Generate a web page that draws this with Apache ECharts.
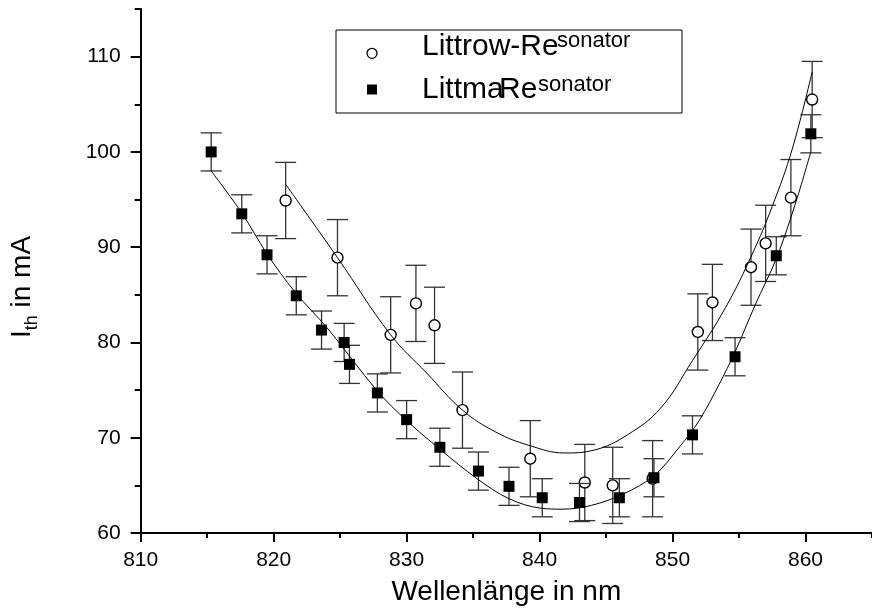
<!DOCTYPE html>
<html><head><meta charset="utf-8">
<script src="https://cdn.jsdelivr.net/npm/echarts@6/dist/echarts.min.js"></script>
<style>html,body{margin:0;padding:0;background:#fff}#c{width:872px;height:611px}</style>
</head><body><div id="c"></div>
<script>
// ---- data ----
const littrowX   = [820.9, 824.8, 828.8, 830.7, 832.1, 834.2, 839.3, 843.4, 845.5, 848.5, 851.9, 853.0, 855.9, 857.0, 858.9, 860.5];
const littrowY   = [94.9, 88.9, 80.8, 84.1, 81.8, 72.9, 67.8, 65.3, 65.0, 65.7, 81.1, 84.2, 87.9, 90.4, 95.2, 105.5];
const littrowErr = [4.0, 4.0, 4.0, 4.0, 4.0, 4.0, 4.0, 4.0, 4.0, 4.0, 4.0, 4.0, 4.0, 4.0, 4.0, 4.0];

const littmanX   = [815.3, 817.6, 819.5, 821.7, 823.6, 825.3, 825.7, 827.8, 830.0, 832.5, 835.4, 837.7, 840.2, 843.0, 846.0, 848.6, 851.5, 854.7, 857.8, 860.4];
const littmanY   = [100.0, 93.5, 89.2, 84.9, 81.3, 80.0, 77.7, 74.7, 71.9, 69.0, 66.5, 64.9, 63.7, 63.2, 63.7, 65.8, 70.3, 78.5, 89.1, 101.9];
const littmanErr = [2.0, 2.0, 2.0, 2.0, 2.0, 2.0, 2.0, 2.0, 2.0, 2.0, 2.0, 2.0, 2.0, 2.0, 2.0, 2.0, 2.0, 2.0, 2.0, 2.0];

// fit curves, points
const littrowFitX = [820.9, 824.8, 828.8, 831.5, 834.2, 836.7, 839.2, 841.9, 844.1, 846.6, 849.1, 851.5, 854.0, 856.0, 857.5, 859.0, 860.5];
const littrowFitY = [96.6, 88.9, 80.8, 76.8, 72.9, 70.6, 69.2, 68.4, 68.7, 70.3, 73.1, 78.1, 83.7, 89.3, 94.3, 100.3, 108.4];
const littmanFitX = [815.3, 817.6, 819.5, 821.6, 824.1, 827.8, 830.0, 832.5, 835.3, 837.7, 840.1, 841.7, 843.9, 846.3, 848.6, 850.5, 852.0, 853.5, 854.7, 856.2, 857.8, 859.2, 860.4];
const littmanFitY = [98.0, 93.6, 89.3, 85.3, 81.4, 74.9, 71.8, 68.8, 65.7, 63.6, 62.6, 62.5, 62.9, 64.1, 66.0, 69.0, 71.8, 75.6, 79.0, 83.9, 88.8, 94.4, 100.0];

const xTickLabels = [810, 820, 830, 840, 850, 860];
const yTickLabels = [60, 70, 80, 90, 100, 110];
const seriesNames = ['Littrow-Resonator', 'LittmaResonator'];
const xTitle = 'Wellenlänge in nm';

// ---- chart ----
const FONT = 'Liberation Sans, Arial, sans-serif';
const chart = echarts.init(document.getElementById('c'), null, {renderer: 'canvas'});

function errData(xs, ys, es) { return xs.map((x, i) => [x, ys[i] - es[i], ys[i] + es[i]]); }
function pairs(xs, ys) { return xs.map((x, i) => [x, ys[i]]); }

function errRender(params, api) {
  const x = api.value(0), lo = api.value(1), hi = api.value(2);
  const t = api.coord([x, hi]), b = api.coord([x, lo]);
  const hw = 10.5;
  const st = {stroke: '#333', lineWidth: 1.3};
  return {type: 'group', children: [
    {type: 'line', shape: {x1: t[0], y1: t[1], x2: b[0], y2: b[1]}, style: st},
    {type: 'line', shape: {x1: t[0] - hw, y1: t[1], x2: t[0] + hw, y2: t[1]}, style: st},
    {type: 'line', shape: {x1: b[0] - hw, y1: b[1], x2: b[0] + hw, y2: b[1]}, style: st}
  ]};
}

const axisCommon = {type: 'value', splitLine: {show: false}};

const option = {
  animation: false,
  backgroundColor: '#fff',
  grid: {left: 140.7, top: 9, bottom: 77, right: -9.6, containLabel: false},
  xAxis: [
    Object.assign({}, axisCommon, {
      min: 810, max: 865, interval: 5, position: 'bottom',
      axisLine: {show: true, lineStyle: {color: '#000', width: 2}},
      axisTick: {show: true, length: 5, lineStyle: {color: '#000', width: 2}},
      axisLabel: {show: false}
    }),
    Object.assign({}, axisCommon, {
      min: 810, max: 865, interval: 10, position: 'bottom',
      axisLine: {show: false},
      axisTick: {show: true, length: 9, lineStyle: {color: '#000', width: 2}, customValues: xTickLabels},
      axisLabel: {show: true, customValues: xTickLabels, fontSize: 21, color: '#000', fontFamily: FONT, margin: 17,
        formatter: v => (xTickLabels.indexOf(v) >= 0 ? String(v) : '')},
      name: xTitle, nameLocation: 'middle', nameGap: 45,
      nameTextStyle: {fontSize: 28, color: '#000', fontFamily: FONT}
    })
  ],
  yAxis: [
    Object.assign({}, axisCommon, {
      min: 60, max: 115, interval: 5, position: 'left',
      axisLine: {show: true, lineStyle: {color: '#000', width: 2}},
      axisTick: {show: true, length: 6, lineStyle: {color: '#000', width: 2}},
      axisLabel: {show: false}
    }),
    Object.assign({}, axisCommon, {
      min: 60, max: 115, interval: 10, position: 'left',
      axisLine: {show: false},
      axisTick: {show: true, length: 10, lineStyle: {color: '#000', width: 2}, customValues: yTickLabels},
      axisLabel: {show: true, customValues: yTickLabels, fontSize: 21, color: '#000', fontFamily: FONT, margin: 20,
        formatter: v => (yTickLabels.indexOf(v) >= 0 ? String(v) : '')},
      name: '{a|I}{b|th}{a| in mA}', nameLocation: 'middle', nameGap: 100,
      nameTextStyle: {color: '#000', padding: [0, 32, 0, 0],
        rich: {
          a: {fontSize: 28, fontFamily: FONT, color: '#000', lineHeight: 36},
          b: {fontSize: 18, fontFamily: FONT, color: '#000', lineHeight: 18, verticalAlign: 'bottom'}
        }}
    })
  ],
  series: [
    {type: 'custom', name: seriesNames[0] + ' err', xAxisIndex: 0, yAxisIndex: 0, z: 1,
      renderItem: errRender, encode: {x: 0, y: [1, 2]}, data: errData(littrowX, littrowY, littrowErr)},
    {type: 'scatter', name: seriesNames[0], xAxisIndex: 0, yAxisIndex: 0, z: 2,
      symbol: 'circle', symbolSize: 11,
      itemStyle: {color: '#fff', borderColor: '#000', borderWidth: 1.4, opacity: 1},
      data: pairs(littrowX, littrowY)},
    {type: 'custom', name: seriesNames[1] + ' err', xAxisIndex: 0, yAxisIndex: 0, z: 3,
      renderItem: errRender, encode: {x: 0, y: [1, 2]}, data: errData(littmanX, littmanY, littmanErr)},
    {type: 'scatter', name: seriesNames[1], xAxisIndex: 0, yAxisIndex: 0, z: 4,
      symbol: 'rect', symbolSize: 11, itemStyle: {color: '#000', opacity: 1},
      data: pairs(littmanX, littmanY)},
    {type: 'line', name: 'fit1', xAxisIndex: 0, yAxisIndex: 0, z: 5, showSymbol: false, symbol: 'none',
      smooth: 0.4, lineStyle: {color: '#000', width: 1}, data: pairs(littrowFitX, littrowFitY)},
    {type: 'line', name: 'fit2', xAxisIndex: 0, yAxisIndex: 0, z: 5, showSymbol: false, symbol: 'none',
      smooth: 0.35, lineStyle: {color: '#000', width: 1}, data: pairs(littmanFitX, littmanFitY)}
  ],
  graphic: [
    {type: 'rect', shape: {x: 336, y: 30, width: 346, height: 83}, style: {fill: '#fff', stroke: '#000', lineWidth: 1}, z: 10},
    {type: 'circle', shape: {cx: 372, cy: 53.3, r: 5}, style: {fill: '#fff', stroke: '#000', lineWidth: 1.3}, z: 11},
    {type: 'rect', shape: {x: 367, y: 84.5, width: 10, height: 10}, style: {fill: '#000'}, z: 11},
    {type: 'text', x: 422, y: 46.3, style: {text: 'Littrow-Re', font: '30px ' + FONT, fill: '#000', verticalAlign: 'middle'}, z: 11},
    {type: 'text', x: 557, y: 40.7, style: {text: 'sonator', font: '22px ' + FONT, fill: '#000', verticalAlign: 'middle'}, z: 11},
    {type: 'text', x: 422, y: 89.6, style: {text: 'Littm', font: '30px ' + FONT, fill: '#000', verticalAlign: 'middle'}, z: 11},
    {type: 'text', x: 487, y: 89.6, style: {text: 'a', font: '30px ' + FONT, fill: '#000', verticalAlign: 'middle'}, z: 11},
    {type: 'text', x: 499, y: 89.6, style: {text: 'Re', font: '30px ' + FONT, fill: '#000', verticalAlign: 'middle'}, z: 11},
    {type: 'text', x: 538, y: 85.1, style: {text: 'sonator', font: '22px ' + FONT, fill: '#000', verticalAlign: 'middle'}, z: 11}
  ]
};
chart.setOption(option);
</script>
</body></html>
